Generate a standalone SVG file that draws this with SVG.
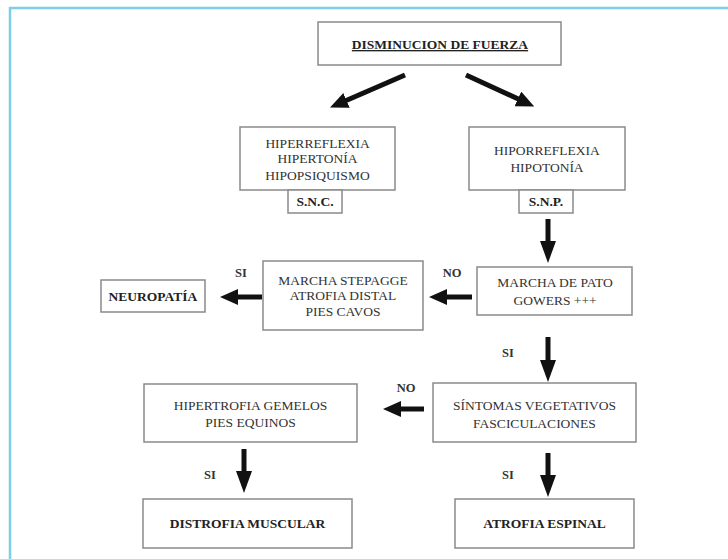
<svg xmlns="http://www.w3.org/2000/svg" width="728" height="559" viewBox="0 0 728 559">
<style>
.box{fill:#fff;stroke:#8a8a8a;stroke-width:1.5}
.t{font-family:"Liberation Serif","DejaVu Serif",serif;font-size:13.5px;fill:#333;text-anchor:middle}
.b{font-weight:bold;fill:#222}
.lbl{font-family:"Liberation Serif","DejaVu Serif",serif;font-size:12.5px;font-weight:bold;fill:#333;text-anchor:middle}
.ar{stroke:#111;stroke-width:5;fill:none;marker-end:url(#ah)}
.av{stroke:#111;stroke-width:5;fill:none;marker-end:url(#av)}
</style>
<defs>
<marker id="ah" viewBox="0 0 18 16" markerWidth="18" markerHeight="16" refX="1" refY="8" orient="auto" markerUnits="userSpaceOnUse">
<path d="M0,0 L18,8 L0,16 z" fill="#111"/>
</marker>
<marker id="av" viewBox="0 0 22 16" markerWidth="22" markerHeight="16" refX="1" refY="8" orient="auto" markerUnits="userSpaceOnUse">
<path d="M0,0 L22,8 L0,16 z" fill="#111"/>
</marker>
</defs>
<rect width="728" height="559" fill="#fff"/>
<path d="M10,559 V8 H728" fill="none" stroke="#7ccfe8" stroke-width="2.5"/>
<g id="n-fuerza"><rect class="box" x="318" y="22" width="243" height="43"/><text class="t b" x="440" y="49" text-decoration="underline" font-size="16">DISMINUCION DE FUERZA</text></g>
<g id="n-snc-sx"><rect class="box" x="240" y="127" width="155" height="63"/><text class="t" x="317.5" y="147.5">HIPERREFLEXIA</text><text class="t" x="317.5" y="163">HIPERTONÍA</text><text class="t" x="317.5" y="179.5">HIPOPSIQUISMO</text></g>
<g id="n-snc"><rect class="box" x="288" y="190" width="54" height="23"/><text class="t b" x="315" y="206" font-size="12.5">S.N.C.</text></g>
<g id="n-snp-sx"><rect class="box" x="469" y="127" width="156" height="63"/><text class="t" x="547" y="155">HIPORREFLEXIA</text><text class="t" x="547" y="171.5">HIPOTONÍA</text></g>
<g id="n-snp"><rect class="box" x="519" y="190" width="54" height="23"/><text class="t b" x="546" y="206" font-size="12.5">S.N.P.</text></g>
<g id="n-pato"><rect class="box" x="477" y="267" width="155" height="48"/><text class="t" x="555" y="287">MARCHA DE PATO</text><text class="t" x="555" y="304.5">GOWERS +++</text></g>
<g id="n-stepagge"><rect class="box" x="263" y="261" width="160" height="69"/><text class="t" x="343" y="284.5">MARCHA STEPAGGE</text><text class="t" x="343" y="300">ATROFIA DISTAL</text><text class="t" x="343" y="315.5">PIES CAVOS</text></g>
<g id="n-neuropatia"><rect class="box" x="101" y="280" width="104" height="32"/><text class="t b" x="153" y="301">NEUROPATÍA</text></g>
<g id="n-sintomas"><rect class="box" x="433" y="383" width="203" height="59"/><text class="t" x="534.5" y="410">SÍNTOMAS VEGETATIVOS</text><text class="t" x="534.5" y="427.5">FASCICULACIONES</text></g>
<g id="n-hipertrofia"><rect class="box" x="144" y="384" width="213" height="58"/><text class="t" x="250.5" y="409.5">HIPERTROFIA GEMELOS</text><text class="t" x="250.5" y="427">PIES EQUINOS</text></g>
<g id="n-distrofia"><rect class="box" x="143" y="499" width="209" height="49"/><text class="t b" x="247.5" y="528">DISTROFIA MUSCULAR</text></g>
<g id="n-atrofia"><rect class="box" x="455" y="499" width="179" height="49"/><text class="t b" x="544.5" y="528">ATROFIA ESPINAL</text></g>
<g id="connectors">
<line class="ar" x1="405" y1="75" x2="345.6" y2="100.8"/>
<line class="ar" x1="466" y1="75" x2="518.8" y2="99.3"/>
<line class="av" x1="548" y1="219" x2="548" y2="242"/>
<line class="ar" x1="472" y1="297" x2="446" y2="297"/>
<line class="ar" x1="262" y1="297" x2="237" y2="297"/>
<line class="av" x1="548" y1="337" x2="548" y2="361"/>
<line class="ar" x1="424" y1="409" x2="400" y2="409"/>
<line class="av" x1="244" y1="449" x2="244" y2="472"/>
<line class="av" x1="548" y1="453" x2="548" y2="476"/>
<text class="lbl" x="452" y="277">NO</text>
<text class="lbl" x="241" y="277">SI</text>
<text class="lbl" x="508" y="357">SI</text>
<text class="lbl" x="406" y="392">NO</text>
<text class="lbl" x="210" y="479">SI</text>
<text class="lbl" x="508" y="479">SI</text>
</g>
</svg>
